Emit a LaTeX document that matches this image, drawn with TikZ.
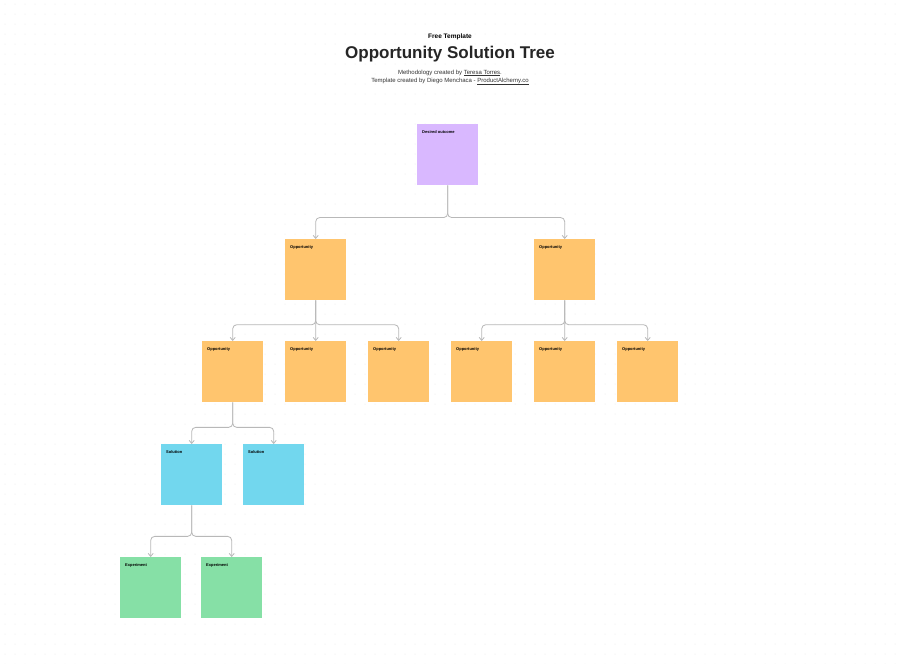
\documentclass[tikz,border=0pt]{standalone}
\usepackage{fontspec}
\setmainfont{Liberation Sans}
\usetikzlibrary{calc,arrows.meta}
\definecolor{purp}{HTML}{D9B8FF}
\definecolor{oran}{HTML}{FFC56E}
\definecolor{cyan2}{HTML}{72D7EE}
\definecolor{grn}{HTML}{86E0A6}
\definecolor{lin}{HTML}{B8B8B8}
\begin{document}
\begin{tikzpicture}[x=1pt,y=-1pt,
  note/.style={minimum width=61pt,minimum height=61pt,inner sep=0pt,draw=none},
  lab/.style={font=\fontsize{4}{5}\selectfont\bfseries,anchor=north west,inner sep=0pt},
  conn/.style={draw=lin,line width=0.8pt,rounded corners=4pt,-{Straight Barb[length=3pt,width=5pt]}}]
\fill[white] (0,0) rectangle (900,664);
\useasboundingbox (0,0) rectangle (900,664);
\foreach \i in {0,...,89}{\foreach \j in {0,...,66}{\fill[black!10] (\i*10+5,\j*10+4) circle (0.5);}}
\node[font=\fontsize{6.5}{8}\selectfont\bfseries] (ft) at (450,37) {Free Template};
\node[font=\fontsize{17}{20}\selectfont\bfseries,text=black!85] (tt) at (450,54) {Opportunity Solution Tree};
\node[font=\fontsize{6}{7}\selectfont,text=black!80] (s1) at (450,73) {Methodology created by \underline{Teresa Torres}.};
\node[font=\fontsize{6}{7}\selectfont,text=black!80] (s2) at (450,81.5) {Template created by Diego Menchaca - \underline{ProductAlchemy.co}};
\newcommand{\mynote}[5]{\node[note,fill=#2,anchor=north west] (#1) at (#3,#4) {};
  \node[lab] (#1l) at ($(#1.north west)+(5,6)$) {#5};}
\mynote{d}{purp}{417}{124}{Desired outcome}
\mynote{a}{oran}{285}{239}{Opportunity}
\mynote{b}{oran}{534}{239}{Opportunity}
\mynote{a1}{oran}{202}{341}{Opportunity}
\mynote{a2}{oran}{285}{341}{Opportunity}
\mynote{a3}{oran}{368}{341}{Opportunity}
\mynote{b1}{oran}{451}{341}{Opportunity}
\mynote{b2}{oran}{534}{341}{Opportunity}
\mynote{b3}{oran}{617}{341}{Opportunity}
\mynote{s1n}{cyan2}{161}{444}{Solution}
\mynote{s2n}{cyan2}{243}{444}{Solution}
\mynote{e1}{grn}{120}{557}{Experiment}
\mynote{e2}{grn}{201}{557}{Experiment}
\newcommand{\link}[2]{\draw[conn] (#1.south) -- ($(#1.south)!0.6!(#1.south|-#2.north)$) -- ($(#2.north)!0.4!(#2.north|-#1.south)$) -- (#2.north);}
\foreach \p/\c in {d/a,d/b,a/a1,a/a2,a/a3,b/b1,b/b2,b/b3,a1/s1n,a1/s2n,s1n/e1,s1n/e2}{\link{\p}{\c}}
\end{tikzpicture}
\end{document}
